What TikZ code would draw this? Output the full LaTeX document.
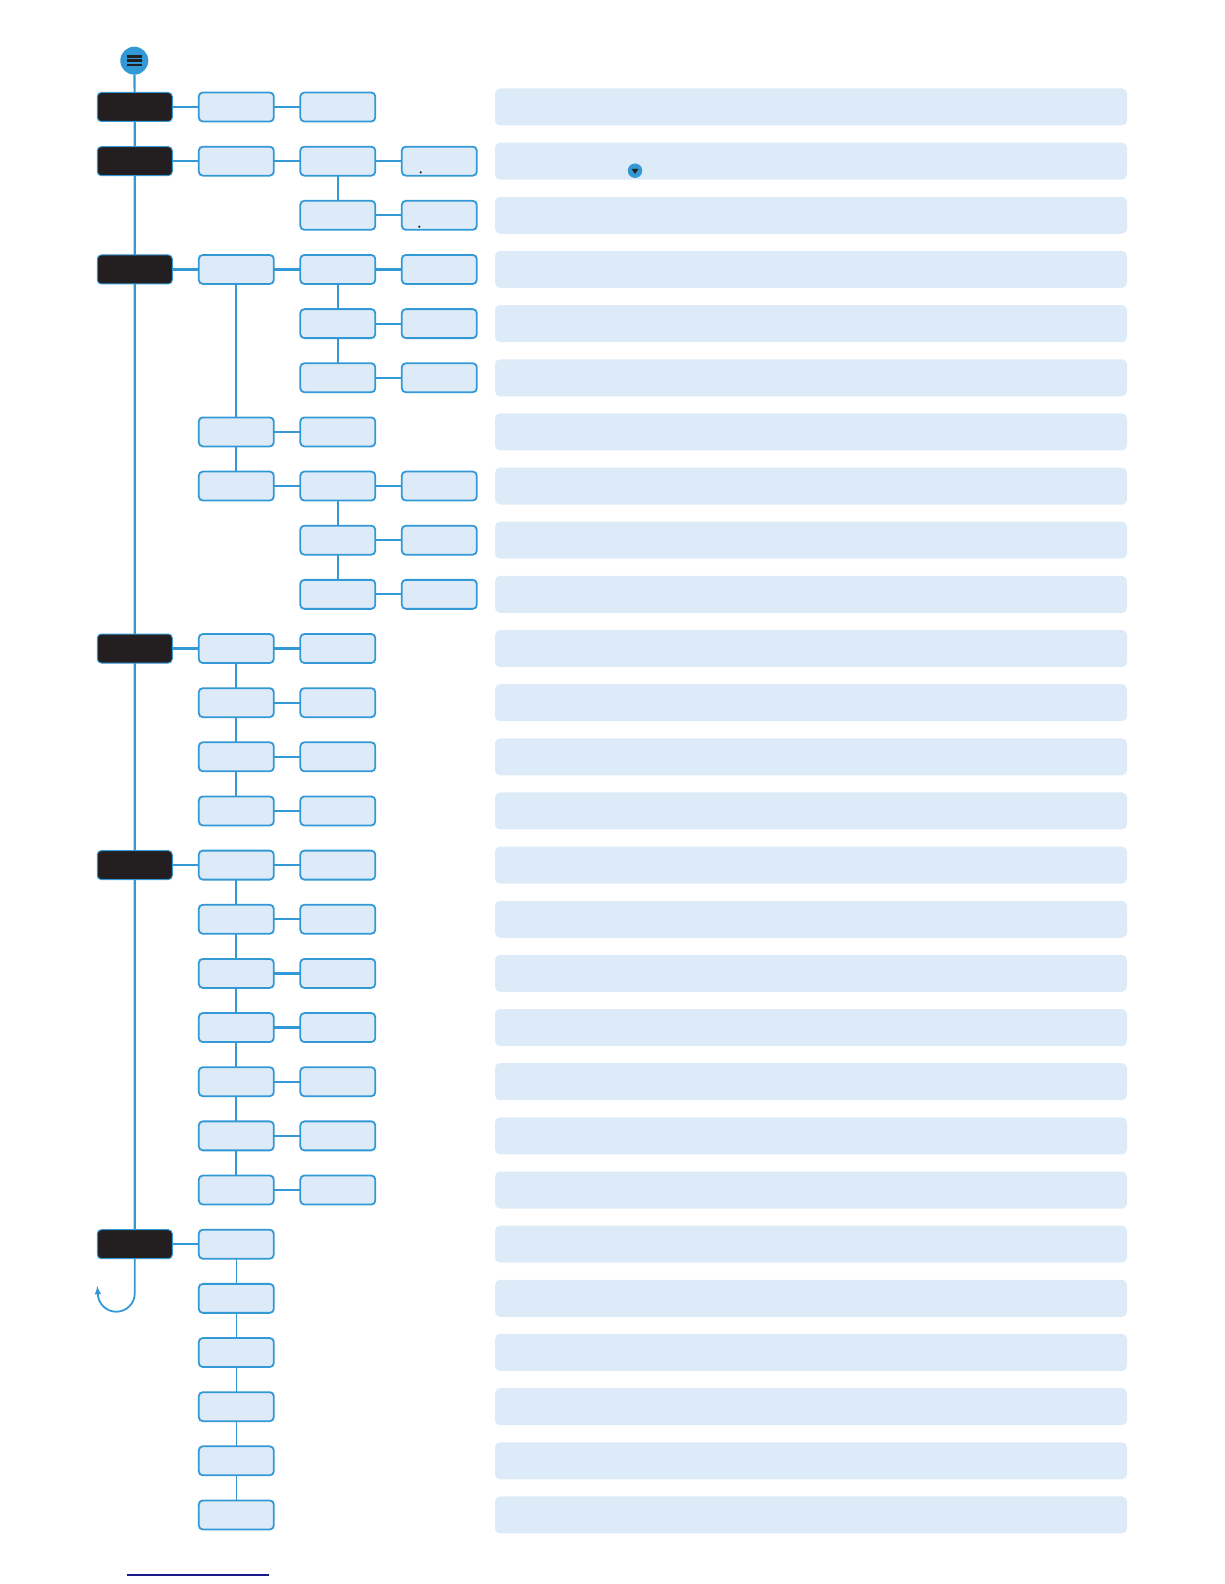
\documentclass[tikz,border=0pt]{standalone}
\usepackage{tikz}
\usetikzlibrary{positioning,shapes,arrows,calc}
\definecolor{mblue}{HTML}{3398D6}
\definecolor{mlight}{HTML}{DDEBF8}
\definecolor{mdark}{HTML}{231F20}
\definecolor{mnavy}{HTML}{1A1A8C}
\tikzstyle{head} = [draw=mblue, fill=mdark, rounded corners=4pt, minimum width=75pt, minimum height=29pt, inner sep=0pt, outer sep=0pt, line width=1pt]
\tikzstyle{item} = [draw=mblue, fill=mlight, rounded corners=4pt, minimum width=75pt, minimum height=29pt, inner sep=0pt, outer sep=0pt, line width=1.8pt]
\tikzstyle{bar} = [fill=mlight, rounded corners=5pt, minimum width=632pt, minimum height=37pt, inner sep=0pt]
\tikzstyle{link} = [draw=mblue, line width=2.2pt]
\tikzstyle{thin} = [draw=mblue, line width=1.2pt]

\begin{document}
\begin{tikzpicture}[x=1pt, y=-1pt, node distance=25.15pt and 26.5pt]
        \useasboundingbox (0,0) rectangle (1224,1584);
        %Bars
        \foreach \r in {1,...,27}
            \node [bar] (bar\r) at (811, {107+(\r-1)*54.15}) {};
        \node [circle, fill=mblue, minimum size=14.5pt, inner sep=0pt] (hint) at (635, 170.7) {};
        \fill [mdark] ($(hint)+(-3.5,-1.8)$) -- ++(7,0) -- ++(-3.5,5) -- cycle;
        %Menu
        \node [circle, fill=mblue, minimum size=28pt, inner sep=0pt] (menu) at (134.3, 60.7) {};
        \foreach \d in {-4.3,0,4.3}
            \draw [mdark, line width=2.4pt] ($(menu)+(-7.5,\d)$) -- ++(15,0);
        %Blocks
        \node [head] (sys) at (134.8, 107) {};
        \node [item, right = of sys] (sysA) {};
        \node [item, right = of sysA] (sysB) {};

        \node [head] (ver) at (134.8, 161.15) {};
        \node [item, right = of ver] (verA) {};
        \node [item, right = of verA] (verB) {};
        \node [item, right = of verB] (verC) {};
        \node [item, below = of verB] (verD) {};
        \node [item, right = of verD] (verE) {};
        \fill [mdark] (420.7, 172.3) circle (1.2) (419.3, 226.7) circle (1.2);

        \node [head] (inp) at (134.8, 269.45) {};
        \node [item, right = of inp] (inpA) {};
        \node [item, right = of inpA] (inpB) {};
        \node [item, right = of inpB] (inpC) {};
        \node [item, below = of inpB] (inpD) {};
        \node [item, right = of inpD] (inpE) {};
        \node [item, below = of inpD] (inpF) {};
        \node [item, right = of inpF] (inpG) {};
        \node [item, below = 133.45pt of inpA] (inpH) {};
        \node [item, right = of inpH] (inpI) {};
        \node [item, below = of inpH] (inpJ) {};
        \node [item, right = of inpJ] (inpK) {};
        \node [item, right = of inpK] (inpL) {};
        \node [item, below = of inpK] (inpM) {};
        \node [item, right = of inpM] (inpN) {};
        \node [item, below = of inpM] (inpO) {};
        \node [item, right = of inpO] (inpP) {};

        \node [head] (out) at (134.8, 648.5) {};
        \node [item, right = of out] (outA) {};
        \node [item, right = of outA] (outB) {};
        \node [item, below = of outA] (outC) {};
        \node [item, right = of outC] (outD) {};
        \node [item, below = of outC] (outE) {};
        \node [item, right = of outE] (outF) {};
        \node [item, below = of outE] (outG) {};
        \node [item, right = of outG] (outH) {};

        \node [head] (com) at (134.8, 865.1) {};
        \node [item, right = of com] (com1) {};
        \node [item, right = of com1] (val1) {};
        \foreach \i [evaluate=\i as \p using int(\i-1)] in {2,...,7} {
            \node [item, below = of com\p] (com\i) {};
            \node [item, right = of com\i] (val\i) {};
        }

        \node [head] (svc) at (134.8, 1244.2) {};
        \node [item, right = of svc] (svc1) {};
        \foreach \i [evaluate=\i as \p using int(\i-1)] in {2,...,6}
            \node [item, below = of svc\p] (svc\i) {};

        %Lines
        \draw [link] (menu) -- (sys) -- (ver) -- (inp) -- (out) -- (com) -- (svc);
        \draw [link] (sys) -- (sysA) -- (sysB);
        \draw [link] (ver) -- (verA) -- (verB) -- (verC)
            (verB) -- (verD) -- (verE);
        \draw [link] (inp) -- (inpA) -- (inpB) -- (inpC)
            (inpB) -- (inpD) -- (inpE)
            (inpD) -- (inpF) -- (inpG)
            (inpA) -- (inpH) -- (inpI)
            (inpH) -- (inpJ) -- (inpK) -- (inpL)
            (inpK) -- (inpM) -- (inpN)
            (inpM) -- (inpO) -- (inpP);
        \draw [link] (out) -- (outA) -- (outB)
            (outA) -- (outC) -- (outD)
            (outC) -- (outE) -- (outF)
            (outE) -- (outG) -- (outH);
        \draw [link] (com) -- (com1);
        \foreach \i [evaluate=\i as \p using int(\i-1)] in {2,...,7}
            \draw [link] (com\p) -- (com\i);
        \foreach \i in {1,...,7}
            \draw [link] (com\i) -- (val\i);
        \draw [link] (svc) -- (svc1);
        \foreach \i [evaluate=\i as \p using int(\i-1)] in {2,...,6}
            \draw [thin] (svc\p) -- (svc\i);
        %Return
        \coordinate (back) at (97.3, 1286);
        \draw [mblue, line width=1.8pt, -latex] (svc.south) -- ++(0,34.5)
            arc [start angle=0, end angle=180, radius=18.5] -- (back);
        %Footer
        \coordinate (footL) at (127.3, 1575);
        \coordinate (footR) at (269, 1575);
        \draw [mnavy, line width=1.1pt] (footL) -- (footR);
\end{tikzpicture}
\end{document}
